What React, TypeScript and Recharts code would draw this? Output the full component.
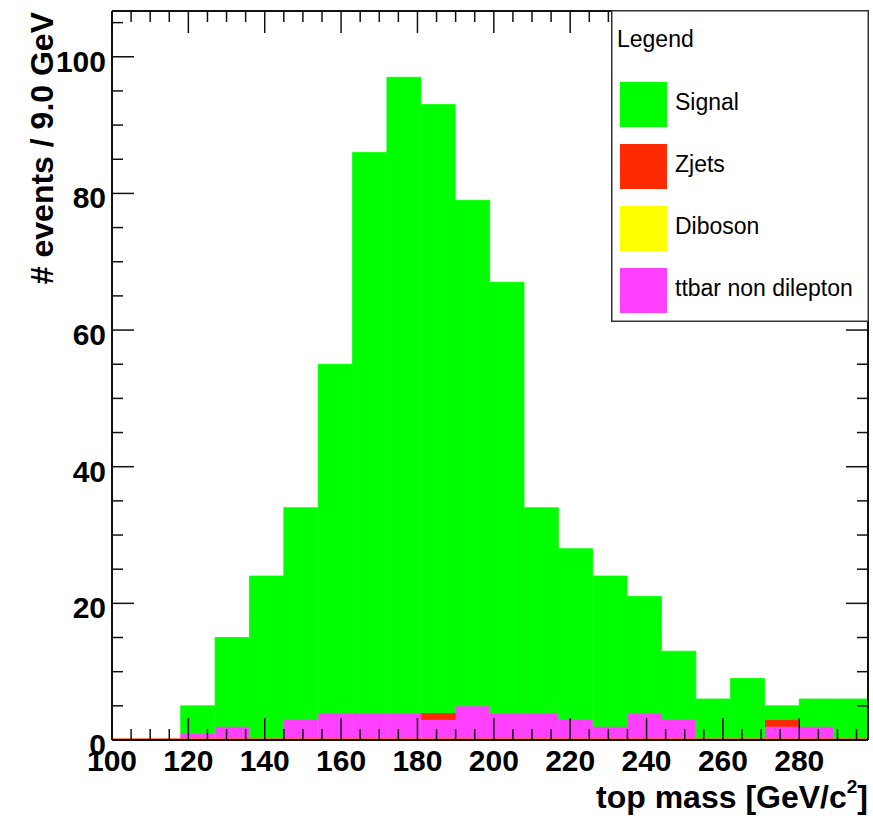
import { ComposedChart, Bar, XAxis, YAxis, Legend, ReferenceLine } from 'recharts';

// 9 GeV bins, lower edges
const BIN_LO = [100, 109, 118, 127, 136, 145, 154, 163, 172, 181, 190, 199, 208, 217, 226, 235, 244, 253, 262, 271, 280, 289];

// stacked contributions per bin (bottom → top: ttbar, diboson, zjets, signal)
const TTBAR = [0, 0, 1, 2, 0, 3, 4, 4, 4, 3, 5, 4, 4, 3, 2, 4, 3, 0, 0, 2, 2, 0];
const DIBOSON = [0, 0, 0, 0, 0, 0, 0, 0, 0, 0, 0, 0, 0, 0, 0, 0, 0, 0, 0, 0, 0, 0];
const ZJETS = [0, 0, 0, 0, 0, 0, 0, 0, 0, 1, 0, 0, 0, 0, 0, 0, 0, 0, 0, 1, 0, 0];
const SIGNAL = [0, 0, 4, 13, 24, 31, 51, 82, 93, 89, 74, 63, 30, 25, 22, 17, 10, 6, 9, 2, 4, 6];

const X_TICKS = [100, 105, 110, 115, 120, 125, 130, 135, 140, 145, 150, 155, 160, 165, 170, 175, 180, 185, 190, 195,
  200, 205, 210, 215, 220, 225, 230, 235, 240, 245, 250, 255, 260, 265, 270, 275, 280, 285, 290, 295];
const Y_TICKS = [0, 5, 10, 15, 20, 25, 30, 35, 40, 45, 50, 55, 60, 65, 70, 75, 80, 85, 90, 95, 100, 105];

const LEGEND_NAMES = ['Signal', 'Zjets', 'Diboson', 'ttbar non dilepton'];

const COLORS: Record<string, string> = {
  Signal: '#00ff00',
  Zjets: '#ff2a00',
  Diboson: '#ffff00',
  'ttbar non dilepton': '#ff40ff',
};

const rows = BIN_LO.map((lo, i) => ({
  lo,
  ttbar: TTBAR[i],
  diboson: DIBOSON[i],
  zjets: ZJETS[i],
  signal: SIGNAL[i],
}));

const FONT = '"Liberation Sans", Arial, Helvetica, sans-serif';
const AXIS_LINE = { stroke: '#111', strokeWidth: 2 };
const TICK_STROKE = '#111';

const isMajor = (v: number) => v % 20 === 0;

// ROOT-style ticks: drawn inward, long on multiples of 20
function BottomTick(props: any) {
  const { x, y, payload } = props;
  const len = isMajor(payload.value) ? 22 : 11;
  return (
    <g>
      <line x1={x} y1={y} x2={x} y2={y - len} stroke={TICK_STROKE} strokeWidth={1.5} />
      {isMajor(payload.value) && (
        <text x={x} y={y + 31} textAnchor="middle" fontFamily={FONT} fontWeight="bold" fontSize={30} fill="#000">
          {payload.value}
        </text>
      )}
    </g>
  );
}

function TopTick(props: any) {
  const { x, y, payload } = props;
  const len = isMajor(payload.value) ? 22 : 11;
  return <line x1={x} y1={y} x2={x} y2={y + len} stroke={TICK_STROKE} strokeWidth={1.5} />;
}

function LeftTick(props: any) {
  const { x, y, payload } = props;
  const len = isMajor(payload.value) ? 22 : 11;
  return (
    <g>
      <line x1={x} y1={y} x2={x + len} y2={y} stroke={TICK_STROKE} strokeWidth={1.5} />
      {isMajor(payload.value) && (
        <text x={x - 6} y={y + 15} textAnchor="end" fontFamily={FONT} fontWeight="bold" fontSize={30} fill="#000">
          {payload.value}
        </text>
      )}
    </g>
  );
}

function RightTick(props: any) {
  const { x, y, payload } = props;
  const len = isMajor(payload.value) ? 22 : 11;
  return <line x1={x} y1={y} x2={x - len} y2={y} stroke={TICK_STROKE} strokeWidth={1.5} />;
}

function XTitle(props: any) {
  const vb = props.viewBox;
  return (
    <text x={vb.x + vb.width} y={vb.y + 68} textAnchor="end" fontFamily={FONT} fontWeight="bold" fontSize={32} fill="#000">
      top mass [GeV/c
      <tspan dy={-15} fontSize={19}>2</tspan>
      <tspan dy={15}>]</tspan>
    </text>
  );
}

function YTitle(props: any) {
  const vb = props.viewBox;
  const tx = vb.x + 53;
  const ty = vb.y + 1;
  return (
    <text x={tx} y={ty} transform={`rotate(-90 ${tx} ${ty})`} textAnchor="end" fontFamily={FONT} fontWeight="bold" fontSize={32} fill="#000">
      # events / 9.0 GeV
    </text>
  );
}

function LegendBox() {
  return (
    <svg width={258} height={312} style={{ display: 'block' }}>
      <rect x={0.75} y={0.75} width={256.5} height={310.5} fill="#fff" stroke="#333" strokeWidth={1.5} />
      <text x={6} y={37} fontFamily={FONT} fontSize={23} fill="#000">Legend</text>
      {LEGEND_NAMES.map((name, i) => (
        <g key={name}>
          <rect x={9} y={72 + i * 62} width={47} height={45} fill={COLORS[name]} />
          <text x={64} y={100 + i * 62} fontFamily={FONT} fontSize={23} fill="#000">{name}</text>
        </g>
      ))}
    </svg>
  );
}

// thin orange line along zero, as in the original where bins are empty
function NullLine(props: any) {
  return <line x1={props.x1} y1={props.y1 - 1} x2={props.x2} y2={props.y2 - 1} stroke="#ff6a1a" strokeWidth={1.5} />;
}

export default function App() {
  return (
    <div style={{ position: 'absolute', left: 0, top: 0, width: 873, height: 816, background: '#fff' }}>
      <ComposedChart
        width={873}
        height={816}
        data={rows}
        margin={{ top: 0, right: 0, left: 0, bottom: 0 }}
        barCategoryGap={0}
        barGap={0}
      >
        <ReferenceLine xAxisId="num" y={0} shape={<NullLine />} />
        <Bar xAxisId="bins" dataKey="ttbar" stackId="a" name="ttbar non dilepton" fill={COLORS['ttbar non dilepton']}
          stroke={COLORS['ttbar non dilepton']} strokeWidth={0.8} isAnimationActive={false} />
        <Bar xAxisId="bins" dataKey="diboson" stackId="a" name="Diboson" fill={COLORS.Diboson}
          stroke={COLORS.Diboson} strokeWidth={0.8} isAnimationActive={false} />
        <Bar xAxisId="bins" dataKey="zjets" stackId="a" name="Zjets" fill={COLORS.Zjets}
          stroke={COLORS.Zjets} strokeWidth={0.8} isAnimationActive={false} />
        <Bar xAxisId="bins" dataKey="signal" stackId="a" name="Signal" fill={COLORS.Signal}
          stroke={COLORS.Signal} strokeWidth={0.8} isAnimationActive={false} />
        <XAxis
          xAxisId="num"
          dataKey="lo"
          type="number"
          orientation="bottom"
          domain={[100, 298]}
          allowDataOverflow
          ticks={X_TICKS}
          interval={0}
          height={76}
          tickSize={0}
          tickMargin={0}
          tickLine={false}
          axisLine={AXIS_LINE}
          tick={<BottomTick />}
          label={<XTitle />}
        />
        <XAxis xAxisId="bins" dataKey="lo" type="category" orientation="bottom" height={0} hide />
        <XAxis
          xAxisId="top"
          dataKey="lo"
          type="number"
          orientation="top"
          domain={[100, 298]}
          allowDataOverflow
          ticks={X_TICKS}
          interval={0}
          height={11}
          tickSize={0}
          tickMargin={0}
          tickLine={false}
          axisLine={AXIS_LINE}
          tick={<TopTick />}
        />
        <YAxis
          type="number"
          domain={[0, 106.7]}
          allowDataOverflow
          ticks={Y_TICKS}
          interval={0}
          width={112}
          tickSize={0}
          tickMargin={0}
          tickLine={false}
          axisLine={AXIS_LINE}
          tick={<LeftTick />}
          label={<YTitle />}
        />
        <YAxis
          yAxisId="right"
          orientation="right"
          type="number"
          domain={[0, 106.7]}
          allowDataOverflow
          ticks={Y_TICKS}
          interval={0}
          width={5}
          tickSize={0}
          tickMargin={0}
          tickLine={false}
          axisLine={AXIS_LINE}
          tick={<RightTick />}
        />
        <Legend
          layout="horizontal"
          verticalAlign="middle"
          align="center"
          content={() => <LegendBox />}
          wrapperStyle={{ position: 'absolute', left: 611, top: 10, width: 258, height: 312, margin: 0, padding: 0 }}
        />
      </ComposedChart>
    </div>
  );
}
